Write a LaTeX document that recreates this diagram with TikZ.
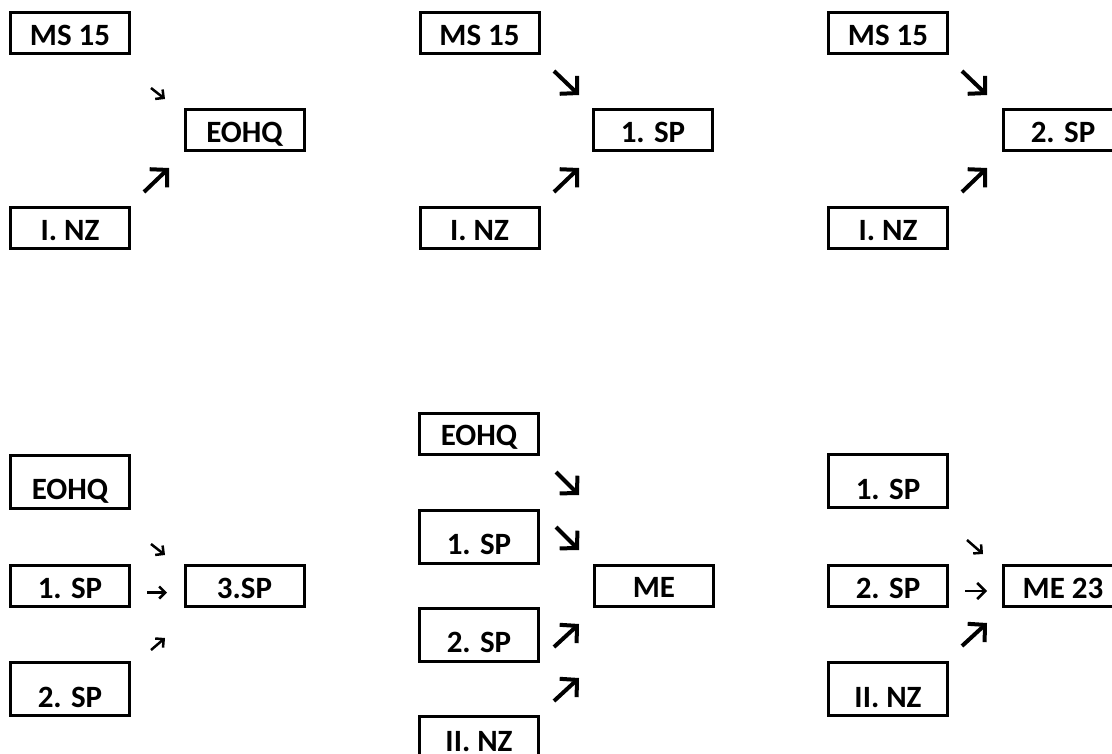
\documentclass[tikz,border=0pt]{standalone}
\usepackage{fontspec}
\setmainfont{Carlito}
\usetikzlibrary{arrows.meta}

\begin{document}
\begin{tikzpicture}[x=1pt, y=-1pt,
                boxnode/.style={rectangle, draw=black, line width=3pt, minimum width=119pt, inner xsep=0pt, inner ysep=0pt, text depth=8.5pt, text height=32.5pt, font=\fontsize{31}{37}\selectfont\bfseries},
                tallbox/.style={boxnode, text height=44.5pt},
                lastbox/.style={boxnode, text height=35pt, text depth=20pt},
                bigarrow/.style={line width=4pt, -{Straight Barb[length=12pt, width=25pt]}},
                midarrow/.style={line width=2.5pt, -{Straight Barb[length=8pt, width=16pt]}},
                smallarrow/.style={line width=2.5pt, -{Straight Barb[length=6pt, width=12pt]}},
                ]
                \useasboundingbox (0,0) rectangle (1112,753);

                % top left
                \node[boxnode] (msA) at (70,33) {MS 15};
                \node[boxnode] (eohqA) at (244.5,130) {EOHQ};
                \node[boxnode] (nzA) at (70,228) {I. NZ};
                % top middle
                \node[boxnode] (msB) at (479.5,33) {MS 15};
                \node[boxnode] (spB) at (653,130) {1. SP};
                \node[boxnode] (nzB) at (479.5,228) {I. NZ};
                % top right
                \node[boxnode] (msC) at (888,33) {MS 15};
                \node[boxnode] (spC) at (1063,130) {2. SP};
                \node[boxnode] (nzC) at (888,228) {I. NZ};
                % bottom left
                \node[tallbox] (eohqD) at (70,481.5) {EOHQ};
                \node[boxnode] (spD1) at (70,586) {1. SP};
                \node[boxnode] (spD3) at (244.5,586) {3.SP};
                \node[tallbox] (spD2) at (70,689) {2. SP};
                % bottom middle
                \node[boxnode] (eohqE) at (479,433.5) {EOHQ};
                \node[tallbox] (spE1) at (479,536.5) {1. SP};
                \node[boxnode] (meE) at (654,585.5) {ME};
                \node[tallbox] (spE2) at (479,634.5) {2. SP};
                \node[lastbox] (nzE) at (479,744) {II. NZ};
                % bottom right
                \node[tallbox] (spF1) at (888,481) {1. SP};
                \node[boxnode] (spF2) at (888,586) {2. SP};
                \node[boxnode] (meF) at (1063,586) {ME 23};
                \node[tallbox] (nzF) at (888,689) {II. NZ};

                % arrow ends
                \coordinate (sA1) at (151,88);   \coordinate (tA1) at (165,99);
                \coordinate (sA2) at (144,192);  \coordinate (tA2) at (169,168);
                \coordinate (sB1) at (554,71);   \coordinate (tB1) at (579,95);
                \coordinate (sB2) at (554,192);  \coordinate (tB2) at (579,168);
                \coordinate (sC1) at (962,71);   \coordinate (tC1) at (987,95);
                \coordinate (sC2) at (962,192);  \coordinate (tC2) at (987,168);
                \coordinate (sD1) at (151,544);  \coordinate (tD1) at (165,555);
                \coordinate (sD2) at (147,592.5); \coordinate (tD2) at (167,592.5);
                \coordinate (sD3) at (151,650);  \coordinate (tD3) at (165,638);
                \coordinate (sE1) at (556,472);  \coordinate (tE1) at (579,495);
                \coordinate (sE2) at (556,527);  \coordinate (tE2) at (579,550);
                \coordinate (sE3) at (554,647);  \coordinate (tE3) at (579,624);
                \coordinate (sE4) at (554,701);  \coordinate (tE4) at (579,678);
                \coordinate (sF1) at (967,540);  \coordinate (tF1) at (983,554);
                \coordinate (sF2) at (965,591);  \coordinate (tF2) at (987,591);
                \coordinate (sF3) at (962,646);  \coordinate (tF3) at (987,623);

                \draw[smallarrow] (sA1) -- (tA1);
                \draw[bigarrow] (sA2) -- (tA2);
                \draw[bigarrow] (sB1) -- (tB1);
                \draw[bigarrow] (sB2) -- (tB2);
                \draw[bigarrow] (sC1) -- (tC1);
                \draw[bigarrow] (sC2) -- (tC2);
                \draw[smallarrow] (sD1) -- (tD1);
                \draw[smallarrow] (sD2) -- (tD2);
                \draw[smallarrow] (sD3) -- (tD3);
                \draw[bigarrow] (sE1) -- (tE1);
                \draw[bigarrow] (sE2) -- (tE2);
                \draw[bigarrow] (sE3) -- (tE3);
                \draw[bigarrow] (sE4) -- (tE4);
                \draw[smallarrow] (sF1) -- (tF1);
                \draw[midarrow] (sF2) -- (tF2);
                \draw[bigarrow] (sF3) -- (tF3);
            \end{tikzpicture}
\end{document}
